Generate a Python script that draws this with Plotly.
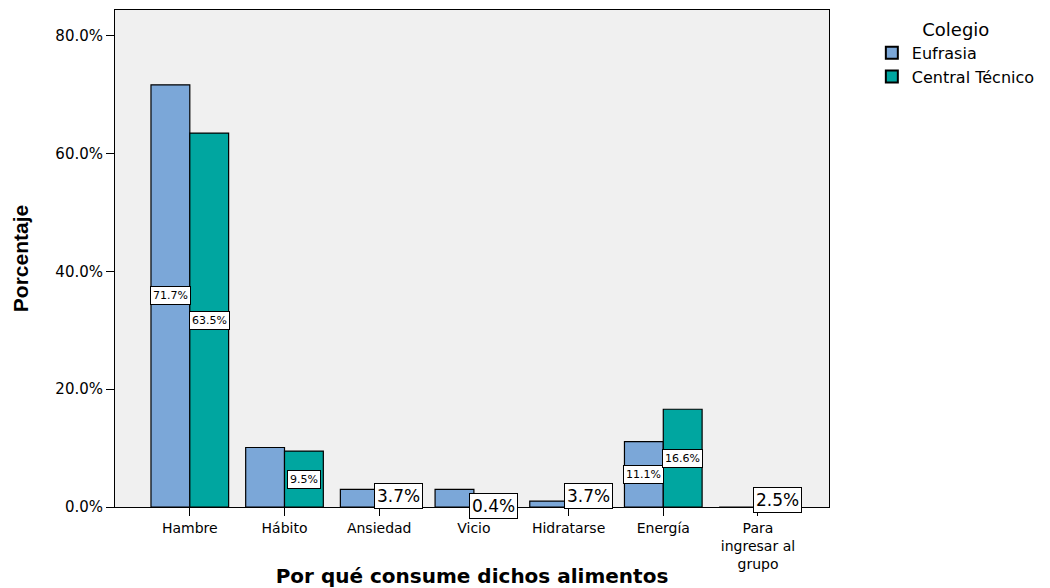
import plotly.graph_objects as go

# Reasons for consuming the foods, by school
categorias = ["Hambre", "Hábito", "Ansiedad", "Vicio", "Hidratarse", "Energía",
              "Para<br>ingresar al<br>grupo"]
eufrasia = [71.7, 10.1, 3.0, 3.0, 1.0, 11.1, 0.0]
central = [63.5, 9.5, 3.7, 0.4, 3.7, 16.6, 2.5]

# Which bars carry a value label, and whether that label uses the large font
etiqueta_eufrasia = [True, False, False, False, False, True, False]
etiqueta_central = [True, True, True, True, True, True, True]
grande_central = [False, False, True, True, True, False, True]

AZUL = "#7BA7D8"
VERDE = "#00A6A0"
FUENTE = "DejaVu Sans, Verdana, sans-serif"

x_idx = list(range(len(categorias)))

fig = go.Figure()
fig.add_trace(go.Bar(name="Eufrasia", x=x_idx, y=eufrasia,
                     marker=dict(color=AZUL, line=dict(color="black", width=1.2))))
fig.add_trace(go.Bar(name="Central Técnico", x=x_idx, y=central,
                     marker=dict(color=VERDE, line=dict(color="black", width=1.2))))

BARGAP = 0.18
medio = (1 - BARGAP) / 4  # offset of each bar's centre from the category centre


def etiqueta(xc, v, grande):
    fig.add_annotation(
        x=xc, y=v / 2, xref="x", yref="y", text=f"{v:.1f}%", showarrow=False,
        font=dict(family=FUENTE, size=17 if grande else 11, color="black"),
        bgcolor="white", bordercolor="black", borderwidth=1,
        borderpad=2 if grande else 2,
    )


for i, v in enumerate(eufrasia):
    if etiqueta_eufrasia[i]:
        etiqueta(i - medio, v, False)
for i, v in enumerate(central):
    if etiqueta_central[i]:
        etiqueta(i + medio, v, grande_central[i])

fig.update_layout(
    width=1050, height=588,
    margin=dict(l=115, r=219, t=10, b=81),
    paper_bgcolor="white", plot_bgcolor="#F0F0F0",
    barmode="group", bargap=BARGAP, bargroupgap=0,
    font=dict(family=FUENTE, size=14, color="black"),
    legend=dict(
        title=dict(text="Colegio", side="top center",
                   font=dict(family=FUENTE, size=18)),
        x=1.06, xanchor="left", y=0.995, yanchor="top",
        font=dict(family=FUENTE, size=16), tracegroupgap=0,
        itemsizing="constant",
    ),
    xaxis=dict(
        tickmode="array", tickvals=x_idx, ticktext=categorias,
        range=[-0.79, 6.75], showline=True, linecolor="black", linewidth=1,
        mirror=True, ticks="outside", ticklen=8, tickcolor="black",
        tickfont=dict(family=FUENTE, size=14), automargin=False,
        title=dict(text="<b>Por qué consume dichos alimentos</b>",
                   font=dict(family=FUENTE, size=20), standoff=6),
    ),
    yaxis=dict(
        range=[0, 84.4], tickvals=[0, 20, 40, 60, 80],
        ticktext=["0.0%", "20.0%", "40.0%", "60.0%", "80.0%"],
        showgrid=False, zeroline=False, showline=True, linecolor="black",
        linewidth=1, mirror=True, ticks="outside", ticklen=8,
        tickcolor="black", tickfont=dict(family=FUENTE, size=15),
        automargin=False,
        title=dict(text="<b>Porcentaje</b>",
                   font=dict(family="Liberation Sans Narrow, Liberation Sans, Arial", size=21),
                   standoff=20),
    ),
)

fig.write_html("out.html")
